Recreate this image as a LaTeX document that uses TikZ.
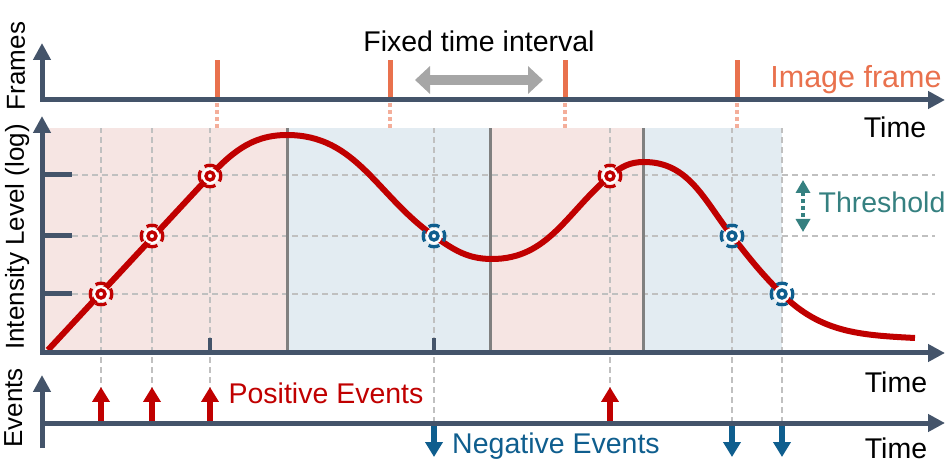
\documentclass[tikz,border=0pt]{standalone}
\usepackage{fontspec}
\setmainfont{Liberation Sans}
\usetikzlibrary{arrows.meta}
\definecolor{axisc}{HTML}{44546A}
\definecolor{curvec}{HTML}{C00000}
\definecolor{framec}{HTML}{E9714D}
\definecolor{framelc}{HTML}{F4AE9A}
\definecolor{posc}{HTML}{F6E5E3}
\definecolor{negc}{HTML}{E3ECF2}
\definecolor{negev}{HTML}{0F5E8E}
\definecolor{threshc}{HTML}{358080}
\definecolor{gridc}{HTML}{C0C0C0}
\definecolor{sepc}{HTML}{808080}
\tikzset{
  axis/.style={draw=axisc, line width=5pt, line join=miter},
  axtip/.style={-{Triangle[length=17pt,width=17pt]}},
  axtips/.style={{Triangle[length=17pt,width=17pt]}-{Triangle[length=17pt,width=17pt]}},
  grid/.style={draw=gridc, line width=2.5pt, dash pattern=on 6pt off 4pt},
  sep/.style={draw=sepc, line width=3pt},
  curve/.style={draw=curvec, line width=6pt, line join=round},
  frametick/.style={draw=framec, line width=5pt},
  framedot/.style={draw=framelc, line width=4pt, dash pattern=on 4pt off 3pt},
  evarrow/.style={line width=5.5pt, -{Triangle[length=15pt,width=17pt]}},
  lbl/.style={font=\fontsize{28.5}{32}\selectfont, anchor=base, inner sep=0pt},
  ylbl/.style={font=\fontsize{26}{30}\selectfont, anchor=base, rotate=90, inner sep=0pt},
  target/.pic={
    \fill[white] (0,0) circle (8);
    \draw[line width=3.4pt] (0,0) circle (4);
    \foreach \a in {0,90,180,270}\draw[line width=3.2pt] (\a-30:10.8) arc (\a-30:\a+30:10.8);
  }
}
\begin{document}
\begin{tikzpicture}[x=1pt, y=1pt]
\useasboundingbox (0,0) rectangle (946,464);
\path
(42,364) coordinate (F0) (945,364) coordinate (F1) (42,421) coordinate (F2)
(42,111) coordinate (O) (945,111) coordinate (O1) (42,348) coordinate (O2)
(42,41) coordinate (E0) (945,41) coordinate (E1) (42,16) coordinate (E2) (42,89) coordinate (E3)
(415,384) coordinate (IL) (543,384) coordinate (IR)
(803,284) coordinate (TU) (803,232) coordinate (TD);
% shaded bands and grid
\foreach \a/\b/\c in {45/287/posc,287/490/negc,490/643/posc,643/782/negc}\fill[\c] (\a,111) rectangle (\b,336);
\foreach \y in {170,228,289}\draw[grid] (72,\y)--(935,\y);
\foreach \x in {101,152,210,434,610,732,782}\draw[grid] (\x,41)--(\x,336);
\foreach \x in {287,490,643}\draw[sep] (\x,111)--(\x,336);
% intensity curve
\draw[curve] (48,114)--(205,283) to[out=47,in=180] (287,329) to[out=0,in=145] (434,228)
  to[out=-35,in=180] (492,205) to[out=0,in=-140] (610,288) to[out=40,in=180] (644,302)
  to[out=0,in=128] (732,228) to[out=-52,in=135] (782,170) to[out=-45,in=177] (915,126);
\foreach \x/\y/\c in {101/170/curvec,152/228/curvec,210/288/curvec,610/288/curvec,434/228/negev,732/228/negev,782/170/negev}\pic[\c] at (\x,\y) {target};
% frames
\foreach \x in {217,390,565,737}{\draw[frametick] (\x,364)--(\x,404); \draw[framedot] (\x,361)--(\x,336);}
\draw[draw=black!35, line width=10pt, {Triangle[length=15pt,width=27pt]}-{Triangle[length=15pt,width=27pt]}] (IL)--(IR);
% events
\foreach \x in {101,152,210,610}\draw[evarrow, curvec] (\x,41)--(\x,77);
\foreach \x in {434,732,782}\draw[evarrow, negev] (\x,41)--(\x,7);
% axes
\draw[axis, axtips] (F2)--(F0)--(F1);
\draw[axis, axtips] (O2)--(O)--(O1);
\draw[axis, axtip] (E2)--(E3);
\draw[axis, axtip] (E0)--(E1);
\foreach \y in {170,228,289}\draw[axis] (42,\y)--(72,\y);
\foreach \x in {210,434}\draw[axis, line width=4pt] (\x,111)--(\x,126);
\draw[threshc, line width=4pt, dash pattern=on 4pt off 3pt, {Triangle[length=13pt,width=14pt]}-{Triangle[length=13pt,width=14pt]}] (TU)--(TD);
% labels
\node[lbl] (fti) at (479,412) {Fixed time interval};
\node[lbl, text=framec, font=\fontsize{30.5}{34}\selectfont] (imf) at (856,376) {Image frame};
\node[lbl] (t1) at (895,326) {Time};
\node[lbl] (t2) at (896,71) {Time};
\node[lbl] (t3) at (896,6) {Time};
\node[lbl, text=threshc] (thr) at (882,251) {Threshold};
\node[lbl, text=curvec] (pos) at (326,60) {Positive Events};
\node[lbl, text=negev] (neg) at (556,11) {Negative Events};
\node[ylbl] (yf) at (25,398) {Frames};
\node[ylbl] (yi) at (24,227) {Intensity Level (log)};
\node[ylbl] (ye) at (22,56) {Events};
\end{tikzpicture}
\end{document}
